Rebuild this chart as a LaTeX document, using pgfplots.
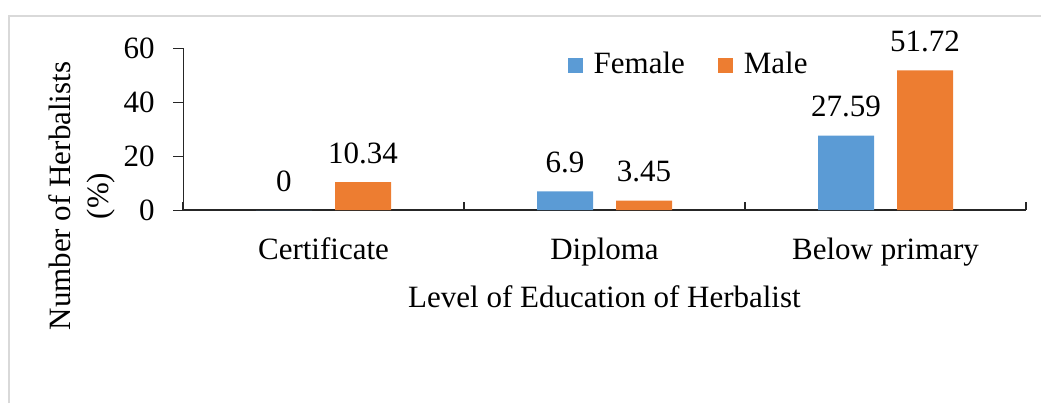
\documentclass[border=0pt]{standalone}
\usepackage{fontspec}
\setmainfont{Liberation Serif}
\usepackage{pgfplots}
\pgfplotsset{compat=1.18}
\usepackage{pgfplotstable}
\definecolor{fem}{HTML}{5B9BD5}
\definecolor{mal}{HTML}{ED7D31}
\definecolor{framec}{HTML}{D9D9D9}

\pgfplotstableread{
x y lab
0 0 0
1 6.9 6.9
2 27.59 27.59
}\female
\pgfplotstableread{
x y lab
0 10.34 10.34
1 3.45 3.45
2 51.72 51.72
}\male

\begin{document}
\fontsize{15.5}{19}\selectfont
\begin{tikzpicture}[font=\fontsize{15.5}{19}\selectfont]
\useasboundingbox (0,0) rectangle (520.5pt,201.5pt);
\draw[framec, line width=0.8pt] (4.5pt,0) -- (4.5pt,193.5pt) -- (520.5pt,193.5pt);
\begin{axis}[
  at={(91.5pt,96.5pt)}, anchor=south west,
  scale only axis, width=421.5pt, height=81pt,
  xmin=-0.5, xmax=2.5, ymin=0, ymax=60,
  axis lines*=left,
  x axis line style={line width=0.9pt, black!85},
  y axis line style={line width=0.5pt, black!85},
  ybar=11.5pt, bar width=28pt,
  xtick={0,1,2}, xticklabels={Certificate,Diploma,Below primary},
  major x tick style={draw=none},
  minor xtick={-0.5,0.5,1.5,2.5},
  minor tick length=4pt,
  minor x tick style={line width=0.6pt, black!85},
  tick align=inside,
  ytick={0,20,40,60},
  major tick length=5pt,
  ytick style={xshift=-5pt, line width=0.5pt, black!85},
  /pgf/number format/assume math mode=true,
  yticklabel style={xshift=-8.8pt},
  xticklabel style={anchor=base, yshift=-24.5pt},
  xlabel={Level of Education of Herbalist},
  xlabel style={at={(rel axis cs:0.5,0)}, anchor=base, yshift=-48.5pt},
  ylabel={\begin{tabular}{@{}c@{}}Number of Herbalists\\(\%)\end{tabular}},
  ylabel style={at={(rel axis cs:-0.1198,0.0864)}, anchor=center, inner sep=0pt},
  nodes near coords,
  point meta=explicit symbolic,
  every node near coord/.append style={anchor=base, yshift=9.5pt},
  legend style={at={(rel axis cs:0.601,0.895)}, anchor=center, draw=none, fill=none,
    legend columns=2,
    /tikz/every odd column/.append style={column sep=3.5pt},
    /tikz/every even column/.append style={column sep=14.5pt}},
]
\addplot[fill=fem, draw=none,
  legend image code/.code={\fill[fem] (0pt,-3.75pt) rectangle (7.5pt,3.75pt);}]
  table[x=x, y=y, meta=lab] {\female};
\addplot[fill=mal, draw=none,
  legend image code/.code={\fill[mal] (0pt,-3.75pt) rectangle (7.5pt,3.75pt);}]
  table[x=x, y=y, meta=lab] {\male};
\legend{Female, Male}
\end{axis}
\end{tikzpicture}
\end{document}
